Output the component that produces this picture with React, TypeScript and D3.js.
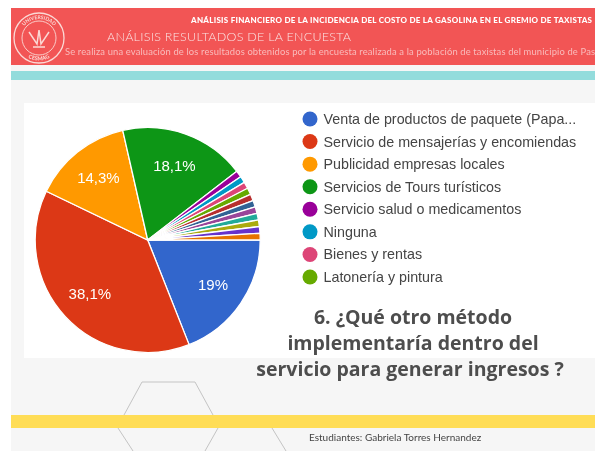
import React, { useEffect, useRef } from "react";
import * as d3 from "d3";

const sliceValues = [19, 38.1, 14.3, 18.1, 0.95, 0.95, 0.95, 0.95, 0.95, 0.95, 0.95, 0.95, 0.95, 0.95, 0.95];
const sliceColors = ["#3366cc", "#dc3912", "#ff9900", "#109618", "#990099", "#0099c6", "#dd4477", "#66aa00", "#b82e2e", "#316395", "#994499", "#22aa99", "#aaaa11", "#6633cc", "#e67300"];
const sliceLabels = ["19%", "38,1%", "14,3%", "18,1%"];
const legendLabels = [
  "Venta de productos de paquete (Papa...",
  "Servicio de mensajerías y encomiendas",
  "Publicidad empresas locales",
  "Servicios de Tours turísticos",
  "Servicio salud o medicamentos",
  "Ninguna",
  "Bienes y rentas",
  "Latonería y pintura",
];
const questionLines = ["6. ¿Qué otro método", "implementaría dentro del", "servicio para generar ingresos ?"];

export default function App() {
  const ref = useRef<SVGSVGElement>(null);

  useEffect(() => {
    const svg = d3.select(ref.current);
    svg.selectAll("*").remove();

    const defs = svg.append("defs");
    defs.append("filter").attr("id", "soft").append("feGaussianBlur").attr("stdDeviation", 0.45);
    defs.append("path").attr("id", "logoTop").attr("d", "M-19,0A19,19 0 0 1 19,0");
    defs.append("path").attr("id", "logoBottom").attr("d", "M-22.5,0A22.5,22.5 0 0 0 22.5,0");

    const root = svg.append("g").attr("filter", "url(#soft)");

    // slide background
    root.append("rect").attr("x", 11).attr("y", 8).attr("width", 590).attr("height", 450).attr("fill", "#f6f6f6");
    root.append("rect").attr("x", 11).attr("y", 8).attr("width", 590).attr("height", 57).attr("fill", "#f25555");
    root.append("rect").attr("x", 11).attr("y", 71).attr("width", 590).attr("height", 9).attr("fill", "#93dcdc");

    // hexagon outlines behind the chart
    const hexLine = d3.line();
    const hexes: [number, number][][] = [
      [[124, 415], [142, 382], [195, 382], [213, 415]],
      [[118, 428], [133, 451]],
      [[218, 428], [205, 451]],
      [[272, 428], [286, 451]],
    ];
    hexes.forEach((h) => {
      root.append("path").attr("d", hexLine(h)).attr("fill", "none").attr("stroke", "#c4c4c4").attr("stroke-width", 1);
    });

    root.append("rect").attr("x", 24).attr("y", 103).attr("width", 577).attr("height", 255).attr("fill", "#fff");
    root.append("rect").attr("x", 11).attr("y", 415).attr("width", 590).attr("height", 13).attr("fill", "#ffdd57");

    // header text
    root.append("text").attr("x", 191).attr("y", 23).attr("font-family", "Lato").attr("font-weight", 900).attr("font-size", 8).attr("textLength", 401).attr("fill", "#fff").text("ANÁLISIS FINANCIERO DE LA INCIDENCIA DEL COSTO DE LA GASOLINA EN EL GREMIO DE TAXISTAS");
    root.append("text").attr("x", 107).attr("y", 41).attr("font-family", "Lato").attr("font-weight", 300).attr("font-size", 12.5).attr("textLength", 244).attr("fill", "#fbe3e3").text("ANÁLISIS RESULTADOS DE LA ENCUESTA");
    root.append("text").attr("x", 65).attr("y", 55).attr("font-family", "Lato").attr("font-size", 9.4).attr("textLength", 530).attr("fill", "#f9bcbc").text("Se realiza una evaluación de los resultados obtenidos por la encuesta realizada a la población de taxistas del municipio de Pas");

    // logo
    const logo = root.append("g").attr("transform", "translate(39,38)").attr("fill", "none").attr("stroke", "#fbd9d5");
    logo.append("circle").attr("r", 25).attr("stroke-width", 1.3);
    logo.append("circle").attr("r", 17).attr("stroke-width", 0.9);
    logo.append("path").attr("d", "M-10,-6L-2,6L0,-8L2,6L10,-6M-6,9L6,9").attr("stroke-width", 1.5);
    logo.append("text").attr("font-family", "Lato").attr("font-weight", 700).attr("font-size", 5).attr("fill", "#fbd9d5").attr("stroke", "none")
      .append("textPath").attr("href", "#logoTop").attr("startOffset", "50%").attr("text-anchor", "middle").text("UNIVERSIDAD");
    logo.append("text").attr("font-family", "Lato").attr("font-weight", 700).attr("font-size", 5.5).attr("fill", "#fbd9d5").attr("stroke", "none")
      .append("textPath").attr("href", "#logoBottom").attr("startOffset", "50%").attr("text-anchor", "middle").text("CESMAG");

    // pie, clockwise from the east side
    const pie = d3.pie<number>().sort(null).startAngle(Math.PI / 2).endAngle(Math.PI * 2.5);
    const arc = d3.arc<d3.PieArcDatum<number>>().innerRadius(0).outerRadius(112.5);
    const chart = root.append("g").attr("transform", "translate(147.7,240)");
    const arcs = pie(sliceValues);
    chart.selectAll("path").data(arcs).enter().append("path")
      .attr("d", arc)
      .attr("fill", (_, i) => sliceColors[i])
      .attr("stroke", "#fff")
      .attr("stroke-width", 1.3);
    const labelArc = d3.arc<d3.PieArcDatum<number>>().innerRadius(79).outerRadius(79);
    chart.selectAll("text").data(arcs.slice(0, sliceLabels.length)).enter().append("text")
      .attr("transform", (d) => `translate(${labelArc.centroid(d)})`)
      .attr("dy", "0.35em")
      .attr("text-anchor", "middle")
      .attr("font-family", "Liberation Sans")
      .attr("font-size", 15)
      .attr("fill", "#fff")
      .text((_, i) => sliceLabels[i]);

    // legend
    const y = d3.scalePoint<string>().domain(legendLabels).range([119, 277]);
    const legend = root.append("g");
    legendLabels.forEach((label, i) => {
      legend.append("circle").attr("cx", 310).attr("cy", y(label)!).attr("r", 7.5).attr("fill", sliceColors[i]);
      legend.append("text").attr("x", 323.5).attr("y", y(label)!).attr("dy", "0.35em").attr("font-family", "Liberation Sans").attr("font-size", 14.3).attr("fill", "#444").text(label);
    });

    // question
    questionLines.forEach((line, i) => {
      root.append("text").attr("x", i === 2 ? 410 : 413).attr("y", 324 + i * 26).attr("text-anchor", "middle").attr("font-family", "Open Sans").attr("font-weight", 700).attr("font-size", 19.5).attr("fill", "#4d4d4d").text(line);
    });

    root.append("text").attr("x", 309).attr("y", 441).attr("font-family", "Lato").attr("font-size", 10).attr("fill", "#444").text("Estudiantes: Gabriela Torres Hernandez");
  }, []);

  return <svg ref={ref} width={595} height={451} style={{ position: "fixed", left: 0, top: 0, background: "#fff" }} />;
}
